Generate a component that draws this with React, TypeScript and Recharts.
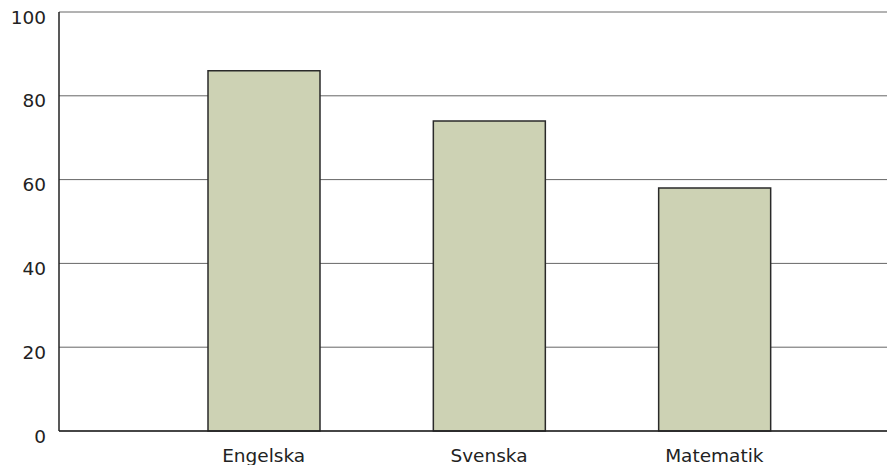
import React from "react";
import { BarChart, Bar, XAxis, YAxis, CartesianGrid } from "recharts";

const subjects = ["Engelska", "Svenska", "Matematik"];
const scores = [86, 74, 58];
const yTicks = [0, 20, 40, 60, 80, 100];

const FONT = "'DejaVu Sans', sans-serif";

const data = subjects.map((name, i) => ({ name, value: scores[i] }));

function YTick({ x, y, payload }: any) {
  return (
    <text x={x} y={y + 5} dy="0.355em" textAnchor="end" fontSize={18.5} fill="#222" fontFamily={FONT}>
      {payload.value}
    </text>
  );
}

function XTick({ x, y, payload }: any) {
  return (
    <text x={x} y={y + 29} textAnchor="middle" fontSize={18.5} fill="#222" fontFamily={FONT}>
      {payload.value}
    </text>
  );
}

export default function App() {
  return (
    <div style={{ position: "absolute", left: 0, top: 0, background: "#fff" }}>
      <BarChart
        width={887}
        height={465}
        data={data}
        margin={{ top: 12, right: 0, left: 0, bottom: 0 }}
        barCategoryGap={0}
      >
        <CartesianGrid horizontal vertical={false} stroke="#666" strokeWidth={1} />
        <XAxis
          dataKey="name"
          height={34}
          padding={{ left: 92, right: 60 }}
          tickLine={false}
          axisLine={{ stroke: "#222", strokeWidth: 1.5 }}
          tickSize={0}
          tick={<XTick />}
          interval={0}
        />
        <YAxis
          width={59}
          domain={[0, 100]}
          ticks={yTicks}
          tickLine={false}
          axisLine={{ stroke: "#222", strokeWidth: 1.5 }}
          tickSize={0}
          tickMargin={13}
          tick={<YTick />}
        />
        <Bar
          dataKey="value"
          fill="#cdd2b4"
          stroke="#2a2a2a"
          strokeWidth={1.5}
          barSize={112}
          isAnimationActive={false}
        />
      </BarChart>
    </div>
  );
}
